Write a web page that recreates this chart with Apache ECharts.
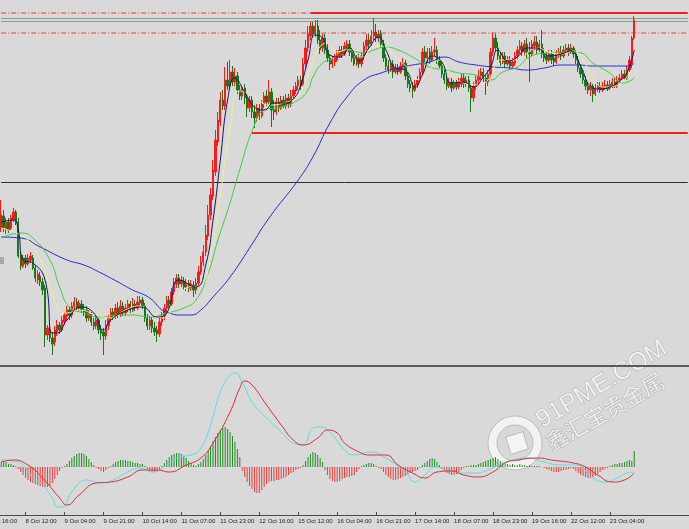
<!DOCTYPE html>
<html><head><meta charset="utf-8">
<script src="https://cdn.jsdelivr.net/npm/echarts@6/dist/echarts.min.js"></script>
<style>html,body{margin:0;padding:0;background:#d9d9d9}#c{width:689px;height:529px}</style>
</head><body><div id="c"></div>
<script>
// ---- DATA ----
const slotCount = 283; // hourly slots on the x axis (261 bars + empty right margin)
// candles: [open, close, low, high]
const ohlc = [
[1204.4,1207.0,1203.6,1210.0],[1206.8,1204.4,1203.6,1208.0],[1204.0,1205.6,1203.2,1206.4],[1205.6,1204.0,1203.4,1206.4],[1204.4,1206.4,1204.0,1207.0],
[1206.0,1207.6,1205.6,1208.4],[1207.6,1205.6,1205.0,1208.0],[1205.6,1198.8,1198.4,1206.4],[1198.8,1196.8,1196.0,1199.6],[1196.8,1198.4,1196.4,1199.0],
[1198.4,1197.2,1196.4,1199.0],[1197.2,1198.4,1196.8,1199.2],[1198.0,1198.8,1197.4,1199.6],[1198.4,1196.4,1196.0,1199.0],[1196.4,1194.4,1193.6,1197.0],
[1194.0,1195.2,1193.2,1196.0],[1194.8,1193.6,1192.8,1195.6],[1193.6,1192.0,1191.0,1194.4],[1192.4,1183.0,1180.6,1193.0],[1183.0,1184.4,1182.0,1185.0],
[1184.0,1182.4,1181.6,1184.8],[1182.4,1181.2,1179.0,1183.6],[1181.6,1184.0,1180.8,1184.8],[1183.6,1185.0,1182.8,1186.0],[1185.0,1184.0,1183.2,1185.6],
[1184.0,1186.0,1183.6,1186.8],[1185.6,1187.0,1185.0,1187.6],[1186.8,1188.0,1186.0,1188.8],[1188.0,1186.8,1186.0,1188.8],[1187.0,1188.8,1186.4,1189.6],
[1188.8,1189.6,1188.0,1190.6],[1189.6,1188.4,1187.8,1190.4],[1188.4,1189.4,1187.6,1190.0],[1189.2,1188.0,1187.4,1190.0],[1188.0,1187.6,1186.8,1189.2],
[1188.0,1186.4,1185.6,1188.8],[1186.4,1187.2,1185.8,1188.0],[1187.2,1185.6,1184.8,1187.6],[1185.6,1184.8,1184.0,1186.4],[1184.8,1186.0,1184.2,1186.8],
[1186.0,1184.0,1183.2,1186.4],[1184.0,1183.4,1182.0,1185.0],[1183.6,1182.8,1179.0,1184.4],[1182.8,1185.0,1182.0,1186.0],[1184.8,1186.4,1184.0,1187.0],
[1186.4,1187.6,1185.6,1188.4],[1187.6,1186.8,1186.0,1188.4],[1186.8,1188.4,1186.2,1189.2],[1188.4,1187.2,1186.4,1189.6],[1187.2,1188.8,1186.6,1190.0],
[1188.8,1187.4,1186.8,1189.6],[1187.4,1188.4,1186.8,1189.2],[1188.2,1189.2,1187.6,1190.0],[1189.2,1188.0,1187.4,1189.8],[1188.0,1189.2,1187.6,1190.4],
[1189.2,1188.4,1187.8,1190.0],[1188.4,1189.6,1188.0,1190.8],[1189.4,1190.0,1188.8,1190.8],[1190.0,1188.8,1188.2,1190.6],[1188.8,1186.4,1185.6,1189.4],
[1186.4,1184.8,1184.0,1187.2],[1184.8,1186.0,1184.0,1186.8],[1186.0,1184.4,1183.4,1186.6],[1184.4,1183.6,1182.8,1185.6],[1184.0,1183.2,1181.6,1184.8],
[1183.2,1185.6,1182.6,1186.4],[1185.6,1186.8,1184.8,1187.6],[1186.8,1188.4,1186.0,1189.2],[1188.4,1190.0,1187.6,1190.8],[1190.0,1189.2,1188.4,1190.8],
[1189.2,1191.6,1188.8,1192.4],[1191.6,1193.4,1191.0,1194.4],[1193.2,1194.4,1192.4,1195.2],[1194.4,1193.2,1192.4,1195.2],[1193.2,1194.0,1192.6,1194.8],
[1193.8,1192.6,1192.0,1194.6],[1192.6,1193.4,1191.8,1194.2],[1193.4,1192.4,1191.6,1194.0],[1192.4,1193.2,1191.8,1194.0],[1193.0,1192.0,1190.6,1193.8],
[1192.0,1193.4,1191.2,1194.4],[1193.4,1195.6,1192.8,1196.8],[1195.6,1197.6,1195.0,1198.8],[1197.6,1199.6,1196.8,1201.0],[1199.6,1203.0,1198.8,1205.0],
[1202.8,1207.0,1202.0,1209.0],[1207.0,1211.0,1206.0,1212.4],[1210.8,1216.0,1210.0,1218.0],[1215.6,1222.0,1214.8,1224.0],[1221.6,1226.0,1220.8,1227.6],
[1225.6,1230.0,1224.8,1231.6],[1230.0,1228.8,1228.0,1232.0],[1228.8,1234.0,1228.0,1236.6],[1234.0,1232.8,1232.0,1237.6],[1232.8,1235.6,1232.4,1238.0],
[1235.6,1233.6,1232.8,1236.8],[1233.6,1234.8,1232.8,1236.4],[1234.8,1232.0,1231.2,1235.6],[1232.0,1230.8,1230.0,1233.0],[1230.8,1232.4,1230.0,1233.0],
[1232.4,1230.4,1229.2,1233.2],[1230.4,1228.4,1226.6,1231.2],[1228.4,1230.0,1227.6,1230.8],[1230.0,1227.6,1226.4,1230.8],[1227.6,1226.4,1224.4,1229.0],
[1226.4,1228.4,1225.6,1229.2],[1228.4,1226.8,1226.0,1229.2],[1226.8,1229.2,1226.4,1230.0],[1229.2,1230.8,1228.4,1231.6],[1230.8,1229.6,1228.8,1232.0],
[1229.6,1231.6,1229.0,1234.0],[1231.6,1228.0,1224.6,1232.4],[1228.0,1227.6,1226.0,1230.0],[1227.6,1229.6,1227.0,1230.4],[1229.6,1228.4,1227.6,1230.4],
[1228.4,1230.0,1228.0,1230.8],[1230.0,1228.8,1228.4,1230.8],[1228.8,1230.4,1228.2,1231.2],[1230.4,1229.2,1228.4,1231.2],[1229.2,1230.8,1228.6,1232.0],
[1230.8,1232.0,1230.2,1232.8],[1231.8,1232.8,1231.2,1233.6],[1232.8,1234.0,1232.0,1234.8],[1234.0,1232.8,1232.0,1234.8],[1233.2,1237.2,1232.8,1238.4],
[1237.2,1240.4,1236.4,1242.0],[1240.4,1243.2,1239.6,1244.8],[1242.8,1244.8,1242.0,1245.6],[1244.8,1243.2,1242.4,1245.6],[1243.2,1244.8,1242.6,1246.0],
[1244.8,1242.0,1241.2,1246.0],[1242.0,1240.0,1239.2,1244.0],[1240.4,1242.4,1239.6,1243.2],[1242.4,1240.0,1239.2,1243.2],[1240.0,1238.4,1237.6,1241.2],
[1238.4,1237.2,1236.0,1239.2],[1237.2,1238.0,1236.4,1238.8],[1237.6,1238.4,1236.8,1239.2],[1238.0,1239.2,1237.6,1240.0],[1238.8,1240.0,1238.4,1240.8],
[1240.0,1239.2,1238.4,1240.8],[1239.2,1240.8,1238.8,1241.6],[1240.4,1241.2,1239.6,1242.0],[1241.2,1239.6,1238.8,1242.0],[1239.6,1238.4,1237.6,1240.4],
[1238.4,1237.2,1236.8,1239.2],[1237.2,1238.4,1236.8,1239.0],[1238.4,1237.2,1236.4,1239.2],[1237.2,1238.8,1236.6,1239.6],[1238.8,1240.8,1238.0,1241.6],
[1240.8,1242.0,1240.0,1243.2],[1242.0,1241.2,1240.4,1243.2],[1241.2,1242.8,1240.8,1244.0],[1242.8,1243.6,1242.0,1246.4],[1243.6,1242.4,1241.6,1245.2],
[1242.4,1243.2,1241.6,1244.0],[1243.2,1241.2,1240.4,1244.0],[1241.2,1238.4,1237.6,1242.0],[1238.4,1236.8,1236.0,1239.2],[1236.8,1236.0,1235.2,1238.0],
[1236.0,1237.2,1235.6,1238.0],[1237.2,1235.6,1234.4,1238.0],[1235.6,1236.4,1235.2,1237.2],[1236.4,1235.6,1235.0,1237.2],[1235.6,1236.8,1235.2,1237.6],
[1236.6,1237.4,1236.0,1238.4],[1237.4,1234.8,1234.0,1238.0],[1234.8,1233.2,1232.4,1235.6],[1233.2,1232.4,1231.6,1234.0],[1232.8,1232.0,1230.4,1233.6],
[1232.0,1233.2,1231.6,1234.0],[1233.0,1234.0,1232.4,1234.8],[1234.0,1235.6,1233.6,1236.4],[1235.6,1239.6,1235.0,1240.4],[1239.6,1238.4,1237.6,1240.8],
[1238.4,1239.6,1237.6,1240.4],[1239.6,1238.0,1237.2,1240.4],[1238.0,1239.6,1237.6,1240.8],[1239.6,1240.0,1238.8,1242.4],[1240.0,1238.0,1237.2,1240.8],
[1238.0,1236.8,1236.4,1238.8],[1236.8,1235.2,1234.4,1237.6],[1235.2,1234.0,1233.2,1236.0],[1234.0,1232.8,1232.0,1234.8],[1232.8,1233.6,1232.4,1234.4],
[1233.6,1232.4,1231.6,1234.4],[1232.4,1233.4,1232.0,1234.0],[1233.4,1232.6,1232.0,1234.2],[1232.6,1233.6,1232.2,1234.4],[1233.2,1234.4,1232.6,1235.2],
[1234.4,1233.2,1232.4,1235.2],[1233.2,1234.0,1232.6,1234.8],[1234.0,1232.4,1231.6,1234.8],[1232.4,1230.4,1227.6,1233.2],[1230.4,1232.8,1229.6,1233.6],
[1232.8,1234.0,1232.0,1234.8],[1234.0,1234.8,1233.2,1236.0],[1234.8,1235.6,1234.0,1236.4],[1235.6,1234.4,1233.6,1236.4],[1234.4,1233.6,1231.0,1235.2],
[1233.6,1235.2,1232.8,1236.0],[1235.2,1239.6,1234.4,1240.4],[1239.6,1242.4,1238.8,1243.4],[1242.4,1240.4,1239.6,1243.2],[1240.4,1238.8,1238.0,1241.6],
[1238.8,1237.6,1236.8,1239.6],[1237.6,1238.8,1237.2,1239.6],[1238.8,1237.2,1236.4,1239.6],[1237.2,1238.0,1236.8,1238.8],[1238.0,1236.8,1236.0,1238.8],
[1236.8,1237.6,1236.4,1238.4],[1237.4,1238.8,1236.8,1239.6],[1238.8,1240.0,1238.0,1240.8],[1240.0,1240.8,1239.2,1242.0],[1240.8,1239.6,1238.8,1241.6],
[1239.6,1241.2,1238.8,1242.0],[1241.2,1239.6,1238.4,1242.4],[1239.6,1239.2,1233.6,1241.6],[1239.2,1241.2,1238.8,1242.0],[1240.8,1241.6,1240.0,1242.8],
[1241.6,1240.0,1239.2,1242.8],[1240.0,1241.2,1239.6,1242.0],[1241.2,1239.2,1238.4,1244.0],[1239.2,1238.4,1237.6,1240.4],[1238.8,1238.0,1237.2,1239.6],
[1238.0,1239.2,1237.6,1240.0],[1239.2,1238.0,1237.2,1240.0],[1238.4,1237.6,1236.8,1239.2],[1237.6,1239.2,1237.2,1240.0],[1239.0,1239.6,1238.4,1240.4],
[1239.6,1238.8,1238.0,1240.8],[1238.8,1240.0,1238.4,1240.8],[1240.0,1240.4,1239.2,1241.2],[1240.4,1239.6,1238.8,1241.2],[1239.6,1240.4,1239.2,1241.2],
[1240.4,1239.2,1238.4,1240.8],[1239.2,1238.0,1237.2,1240.0],[1238.0,1236.4,1235.6,1238.8],[1236.4,1235.2,1234.4,1237.2],[1235.2,1234.0,1233.2,1236.0],
[1234.0,1232.8,1232.0,1234.8],[1232.8,1232.0,1231.2,1233.6],[1232.0,1232.8,1230.8,1233.6],[1232.8,1231.2,1229.6,1233.2],[1231.2,1232.4,1230.8,1233.2],
[1232.2,1232.8,1231.6,1233.6],[1232.8,1232.0,1231.4,1233.6],[1232.0,1232.8,1231.6,1233.6],[1232.6,1233.0,1232.0,1234.0],[1233.0,1232.2,1231.8,1233.8],
[1232.4,1233.2,1232.0,1234.0],[1233.0,1233.6,1232.4,1234.4],[1233.6,1232.8,1232.4,1234.4],[1232.8,1234.0,1232.4,1234.8],[1234.0,1234.4,1233.6,1235.2],
[1234.4,1235.2,1234.0,1236.0],[1235.2,1234.4,1234.0,1236.0],[1234.4,1236.0,1234.0,1236.8],[1236.0,1238.0,1235.6,1238.8],[1237.2,1242.4,1236.4,1242.8],
[1242.4,1246.0,1242.0,1246.8]
];
// moving averages: [bar index, value]
const maFast = [[0,1205.6],[5,1206.0],[7,1204.0],[9,1198.0],[13,1197.4],[18,1194.0],[21,1183.4],[23,1183.4],[27,1186.0],[33,1188.6],[38,1187.4],[42,1184.0],[45,1186.0],[52,1188.0],[58,1188.6],[64,1186.6],[68,1187.4],[73,1194.0],[80,1192.6],[84,1197.0],[87,1206.0],[90,1218.0],[93,1230.0],[96,1234.4],[100,1231.6],[104,1228.6],[108,1228.0],[112,1229.4],[116,1229.4],[120,1230.2],[123,1233.0],[126,1238.0],[129,1243.0],[132,1242.4],[135,1239.0],[139,1238.6],[143,1240.4],[147,1237.8],[151,1240.4],[155,1242.6],[158,1240.0],[162,1236.4],[166,1236.0],[170,1232.6],[173,1235.0],[177,1238.8],[181,1237.6],[185,1233.4],[190,1233.6],[194,1232.6],[198,1234.6],[201,1236.6],[204,1240.0],[208,1237.8],[212,1238.6],[216,1240.4],[220,1240.4],[225,1238.8],[230,1239.2],[234,1239.8],[238,1236.8],[242,1232.8],[246,1232.2],[250,1232.6],[254,1233.8],[257,1235.4],[260,1240.0]];
const maYellow = [[0,1204.4],[8,1203.0],[12,1201.4],[17,1197.0],[23,1188.6],[27,1187.4],[32,1188.0],[39,1187.0],[45,1186.4],[51,1188.0],[57,1188.8],[63,1187.0],[67,1186.4],[71,1189.0],[76,1192.4],[82,1193.0],[86,1199.0],[90,1211.0],[92,1218.0],[94,1224.4],[98,1231.8],[104,1230.6],[110,1229.0],[116,1229.4],[122,1231.0],[126,1235.0],[130,1240.0],[134,1241.4],[138,1239.6],[143,1240.2],[148,1238.6],[153,1240.6],[157,1240.8],[162,1238.6],[167,1236.4],[172,1234.0],[176,1236.0],[180,1238.0],[185,1235.0],[190,1233.4],[195,1233.0],[200,1234.0],[205,1238.0],[210,1238.0],[215,1239.0],[220,1240.4],[225,1239.6],[230,1239.2],[235,1239.8],[239,1238.0],[243,1234.6],[247,1232.6],[252,1232.8],[256,1234.0],[260,1237.2]];
const maGreen = [[0,1202.4],[8,1203.4],[13,1202.4],[20,1198.0],[24,1192.6],[28,1188.6],[34,1187.4],[41,1186.6],[48,1187.0],[54,1187.0],[61,1186.6],[68,1187.4],[75,1188.4],[80,1190.0],[85,1195.4],[89,1202.0],[94,1209.4],[97,1214.5],[104,1225.0],[108,1228.0],[115,1228.6],[122,1230.0],[126,1232.0],[128,1234.6],[132,1237.4],[135,1238.0],[142,1240.0],[149,1239.4],[153,1240.0],[158,1240.6],[163,1240.0],[169,1238.6],[176,1236.6],[183,1236.0],[188,1235.4],[195,1235.0],[201,1234.0],[206,1235.6],[212,1236.6],[217,1238.6],[224,1239.4],[232,1239.6],[238,1239.4],[243,1237.4],[250,1235.4],[255,1233.4],[259,1234.0],[260,1234.6]];
const maBlue = [[0,1202.6],[8,1202.4],[16,1200.6],[27,1198.0],[34,1197.0],[41,1195.4],[48,1193.6],[54,1192.0],[61,1190.4],[66,1188.0],[69,1187.4],[73,1187.0],[78,1187.0],[82,1188.0],[87,1190.6],[94,1194.6],[102,1200.4],[110,1206.4],[122,1214.0],[128,1218.6],[135,1225.4],[142,1230.6],[149,1234.0],[156,1235.4],[163,1236.4],[169,1237.0],[176,1237.6],[182,1238.6],[188,1237.6],[195,1237.0],[202,1236.6],[209,1236.4],[216,1236.0],[223,1236.4],[230,1237.0],[237,1237.0],[243,1236.8],[250,1236.8],[257,1236.8],[260,1237.2]];
// horizontal levels
const levelTop = 1247.4, levelTopSolidFrom = 127;
const levelGray1 = 1246.3, levelGray2 = 1245.7;
const levelDashDot = 1243.4;
const levelSupport = 1223.4, levelSupportFrom = 103;
const levelBlack = 1213.5;
// MACD panel
const macdHist = [
0.5,0.6,0.5,0.3,0.3,0.2,0.1,
-0.2,-0.5,-0.8,-1.1,-1.3,-1.5,-1.6,-1.7,-1.8,-1.9,-2.0,-2.0,-2.0,-1.9,-1.6,-1.2,-0.8,-0.4,-0.1,
0.1,0.3,0.6,0.9,1.1,1.3,1.4,1.4,1.3,1.1,0.8,0.5,0.2,
-0.1,-0.2,-0.4,-0.5,-0.3,-0.1,
0.1,0.3,0.5,0.6,0.7,0.7,0.7,0.6,0.6,0.5,0.4,0.4,0.3,0.3,0.1,
-0.2,-0.4,-0.5,-0.5,-0.4,-0.2,
0.1,0.4,0.7,1.0,1.2,1.3,1.4,1.4,1.3,1.1,0.9,0.6,0.4,0.2,
0.1,0.3,0.5,0.8,1.2,1.6,2.1,2.6,3.0,3.4,3.7,3.9,4.0,3.8,3.5,3.1,2.5,1.8,1.0,
-0.4,-1.0,-1.5,-1.9,-2.2,-2.5,-2.6,-2.6,-2.3,-2.0,-1.7,-1.5,-1.4,-1.4,-1.3,-1.3,-1.2,-1.1,-1.0,-0.8,-0.6,-0.5,-0.3,-0.2,-0.1,
0.2,0.6,1.0,1.3,1.5,1.4,1.2,0.9,0.5,
-0.3,-0.8,-1.2,-1.4,-1.5,-1.5,-1.4,-1.2,-1.1,-1.0,-1.0,-0.9,-0.8,-0.5,-0.2,
0.1,0.2,0.3,0.4,0.4,0.3,0.1,
-0.1,-0.2,-0.5,-0.8,-1.0,-1.2,-1.3,-1.3,-1.2,-1.1,-1.0,-0.9,-0.8,-0.6,-0.5,-0.4,-0.3,-0.1,
0.2,0.4,0.6,0.8,0.9,0.8,0.5,0.2,
-0.2,-0.4,-0.6,-0.7,-0.8,-0.8,-0.7,-0.5,-0.3,-0.1,
0.1,0.1,0.2,0.2,
0.2,0.3,0.4,0.5,0.6,0.7,0.8,0.9,1.0,0.8,0.6,0.4,
0.3,0.3,0.2,0.3,0.2,0.2,0.3,0.2,0.2,0.1,0.2,0.1,0.1,0.1,0.1,0.0,
-0.1,-0.2,-0.3,-0.4,-0.5,-0.5,-0.5,-0.4,-0.3,-0.3,-0.2,-0.1,
-0.2,-0.4,-0.6,-0.8,-0.9,-1.0,-1.1,-1.1,-1.0,-0.9,-0.7,-0.5,-0.3,-0.2,-0.1,
0.1,0.2,0.3,0.3,0.4,0.4,0.5,0.6,0.7,0.6,1.6
];
const macdMain = [[0,0.7],[7,0.5],[13,-1.1],[17,-1.8],[21,-3.1],[23,-4.0],[25,-4.0],[29,-2.5],[35,-1.3],[41,-1.6],[46,-1.3],[52,-0.5],[57,-0.1],[62,-0.5],[68,0.2],[73,1.0],[78,1.2],[82,1.9],[86,4.2],[90,7.5],[94,9.2],[96,9.4],[99,8.5],[103,6.5],[109,4.9],[115,3.5],[120,2.4],[124,2.2],[128,3.9],[131,4.0],[135,3.5],[141,1.7],[145,1.2],[152,1.5],[158,0.9],[166,-0.5],[170,-1.5],[174,-0.8],[178,0.0],[184,-0.3],[189,-0.6],[195,-0.6],[200,-0.3],[204,0.2],[210,0.7],[216,0.9],[223,0.5],[230,0.2],[236,0.2],[243,-1.1],[248,-1.5],[253,-1.1],[257,-0.6],[260,-0.5]];
const macdSignal = [[0,0.5],[5,0.7],[11,0.2],[17,-1.1],[24,-3.1],[27,-3.8],[32,-2.8],[39,-1.6],[45,-1.5],[52,-1.0],[58,-0.3],[64,-0.3],[69,-0.5],[76,0.2],[82,0.9],[87,2.4],[94,5.5],[98,7.9],[100,8.6],[103,8.2],[109,6.2],[115,4.2],[120,2.7],[124,2.2],[130,2.9],[134,3.7],[138,3.4],[141,2.4],[147,1.5],[151,1.2],[158,1.2],[163,0.2],[169,-0.6],[174,-1.1],[179,-0.5],[185,-0.4],[190,-0.8],[196,-1.0],[202,-0.5],[207,0.4],[212,0.7],[221,0.9],[226,0.7],[235,0.4],[240,0.0],[245,-0.8],[251,-1.5],[256,-1.3],[260,-0.6]];
// time axis labels
const tickBars = [10,26,42,58,74,90,106,122,138,154,170,186,202,218,234,250];
const tickLabels = ['8 Oct 12:00','9 Oct 04:00','9 Oct 21:00','10 Oct 14:00','11 Oct 07:00','11 Oct 23:00','12 Oct 16:00','15 Oct 12:00','16 Oct 04:00','16 Oct 21:00','17 Oct 14:00','18 Oct 07:00','18 Oct 23:00','19 Oct 16:00','22 Oct 12:00','23 Oct 04:00'];
const firstLabel = '7 Oct 16:00';

// ---- CHART ----
const cats = Array.from({length: slotCount}, (_, i) => String(i));
const lastSlot = slotCount - 1;
const isTick = (i) => tickBars.indexOf(i) >= 0;
const histData = macdHist.map(v => ({value: v, itemStyle: {color: v >= 0 ? '#1d8f1d' : '#f03a3a'}}));
function level(from, to, value, color, width, type) {
  return {type: 'line', xAxisIndex: 0, yAxisIndex: 0, data: [[from, value], [to, value]],
    showSymbol: false, symbol: 'none', silent: true, z: 3,
    lineStyle: {color: color, width: width, type: type, opacity: 1}};
}
const dashDot = [5, 2, 1, 2];
const chart = echarts.init(document.getElementById('c'), null, {renderer: 'canvas'});
chart.setOption({
  animation: false,
  backgroundColor: '#d9d9d9',
  grid: [
    {left: 0, right: 0, top: 0, height: 365},
    {left: 0, right: 0, top: 368, height: 147}
  ],
  xAxis: [
    {type: 'category', gridIndex: 0, data: cats, boundaryGap: true, show: false},
    {type: 'category', gridIndex: 1, data: cats, boundaryGap: true, position: 'bottom',
     axisLine: {show: true, onZero: false, lineStyle: {color: '#4a4a4a', width: 1}},
     axisTick: {show: true, inside: true, length: 3, alignWithLabel: true, interval: (i) => isTick(i), lineStyle: {color: '#4a4a4a'}},
     axisLabel: {show: true, interval: (i) => isTick(i), formatter: (v, i) => tickLabels[tickBars.indexOf(i)] || '',
       align: 'left', margin: 3, fontSize: 6, color: '#222', fontFamily: 'Liberation Sans'},
     splitLine: {show: false}}
  ],
  yAxis: [
    {type: 'value', gridIndex: 0, min: 1177, max: 1250, show: false, splitLine: {show: false}},
    {type: 'value', gridIndex: 1, min: -4.8, max: 9.9, show: false, splitLine: {show: false}}
  ],
  series: [
    level(0, lastSlot, levelGray1, '#8c9a8c', 1, 'solid'),
    level(0, lastSlot, levelGray2, '#8c9a8c', 1, 'solid'),
    level(0, lastSlot, levelDashDot, '#ee3a3a', 1, dashDot),
    level(0, lastSlot, levelBlack, '#303030', 1, 'solid'),
    level(0, levelTopSolidFrom, levelTop, '#ee3a3a', 1, dashDot),
    level(levelTopSolidFrom, lastSlot, levelTop, '#ee2222', 2, 'solid'),
    level(levelSupportFrom, lastSlot, levelSupport, '#ee2222', 2, 'solid'),
    {type: 'candlestick', xAxisIndex: 0, yAxisIndex: 0, data: ohlc, barWidth: '75%', z: 4,
     itemStyle: {color: '#ff1a1a', color0: '#157a15', borderColor: '#ff1a1a', borderColor0: '#157a15', borderWidth: 1}},
    {type: 'line', xAxisIndex: 0, yAxisIndex: 0, data: maBlue, showSymbol: false, smooth: true, lineStyle: {color: '#2a2ad0', width: 1}, z: 5},
    {type: 'line', xAxisIndex: 0, yAxisIndex: 0, data: maGreen, showSymbol: false, smooth: true, lineStyle: {color: '#3ccf3c', width: 1}, z: 5},
    {type: 'line', xAxisIndex: 0, yAxisIndex: 0, data: maYellow, showSymbol: false, smooth: true, lineStyle: {color: '#f0f090', width: 1}, z: 5},
    {type: 'line', xAxisIndex: 0, yAxisIndex: 0, data: maFast, showSymbol: false, smooth: true, lineStyle: {color: '#14146e', width: 1}, z: 6},
    {type: 'bar', xAxisIndex: 1, yAxisIndex: 1, data: histData, barWidth: 1},
    {type: 'line', xAxisIndex: 1, yAxisIndex: 1, data: macdMain, showSymbol: false, smooth: true, lineStyle: {color: '#55e0e0', width: 1}, z: 5},
    {type: 'line', xAxisIndex: 1, yAxisIndex: 1, data: macdSignal, showSymbol: false, smooth: true, lineStyle: {color: '#e02a3a', width: 1}, z: 6}
  ],
  graphic: [
    {type: 'rect', shape: {x: 0, y: 365, width: 689, height: 2}, style: {fill: '#5a5a5a'}, z: 50},
    {type: 'rect', shape: {x: 0, y: 257, width: 4, height: 7}, style: {fill: '#a9a9a9'}, z: 50},
    {type: 'text', x: -14, y: 521, style: {text: firstLabel, fontSize: 6, fill: '#222', fontFamily: 'Liberation Sans', verticalAlign: 'middle'}, z: 50},
    {type: 'group', z: 60, children: [
      {type: 'ring', shape: {cx: 515, cy: 443, r: 27, r0: 18}, style: {fill: 'rgba(250,250,250,0.75)', stroke: 'rgba(160,160,160,0.6)', lineWidth: 1}},
      {type: 'rect', x: 517, y: 443, rotation: 0.3, shape: {x: -9, y: -9, width: 18, height: 18}, style: {fill: 'rgba(250,250,250,0.8)', stroke: 'rgba(160,160,160,0.6)', lineWidth: 1}},
      {type: 'text', x: 545, y: 433, rotation: 0.54, style: {text: '91PME.COM', fontSize: 25, fontFamily: 'Liberation Sans', fill: 'rgba(250,250,250,0.8)', stroke: 'rgba(150,150,150,0.6)', lineWidth: 1, verticalAlign: 'bottom'}},
      {type: 'text', x: 553, y: 454, rotation: 0.52, style: {text: '鑫汇宝贵金属', fontSize: 22, fontFamily: 'Noto Sans CJK SC', fill: 'rgba(250,250,250,0.8)', stroke: 'rgba(150,150,150,0.6)', lineWidth: 1, verticalAlign: 'bottom'}}
    ]}
  ]
});
</script></body></html>
